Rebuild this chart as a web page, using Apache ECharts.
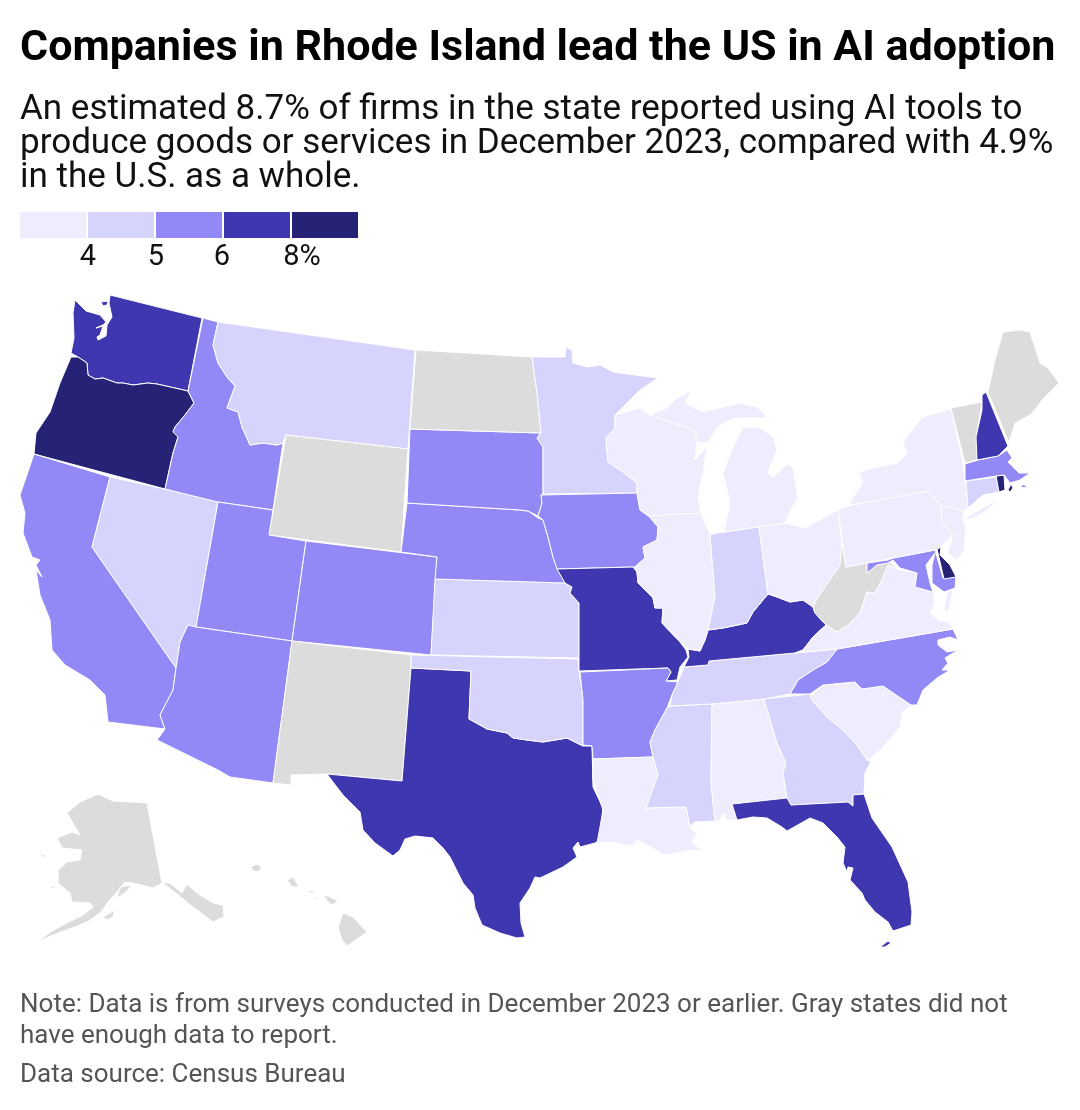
<!DOCTYPE html>
<html><head><meta charset="utf-8">
<style>html,body{margin:0;padding:0;background:#fff}#c{width:1080px;height:1110px}</style>
<script src="https://cdn.jsdelivr.net/npm/echarts@6/dist/echarts.min.js"></script></head>
<body><div id="c"></div>
<script>
// ---- data (null = gray, not enough data) ----
const stateCodes  = ['WA','OR','CA','NV','ID','MT','WY','UT','CO','AZ','NM','TX','OK','KS','NE','SD','ND','MN','IA','MO','AR','LA','MS','AL','GA','FL','SC','NC','TN','KY','IL','IN','OH','WV','VA','MD','DE','PA','NY','NJ','CT','RI','MA','VT','NH','ME','MI','WI','AK','HI'];
const stateValues = [6.6,8.2,5.4,4.6,5.5,4.4,null,5.6,5.7,5.5,null,6.3,4.5,4.4,5.3,5.2,null,4.5,5.4,6.2,5.5,3.8,4.6,3.9,4.7,6.4,3.7,5.6,4.5,6.1,3.9,4.6,3.9,null,3.9,5.5,8.1,3.8,3.9,3.9,4.7,8.7,5.6,null,6.5,null,3.8,3.9,null,null];
const binEdges   = [0,4,5,6,8,10];
const binColors  = ['#eeecfd','#d6d3fc','#9389f6','#3f37b0','#262377'];
const noDataColor = '#dcdcdc';
const tickLabels = ['4','5','6','8%'];
const titleText = 'Companies in Rhode Island lead the US in AI adoption';
const subtitleLines = ['An estimated 8.7% of firms in the state reported using AI tools to','produce goods or services in December 2023, compared with 4.9%','in the U.S. as a whole.'];
const noteLines = ['Note: Data is from surveys conducted in December 2023 or earlier. Gray states did not','have enough data to report.'];
const sourceLine = 'Data source: Census Bureau';

// ---- base map geometry: simplified state outlines in the map's own planar space ----
const outlines = {
WA:['110,295 202,318 188,391 157,384 148,383 133,385 123,383 117,383 103,378 95,379 88,375 87,363 78,357 71,353 74,338 73,313 75,300 86,311 100,315 106,322 103,325 96,328 103,326 100,335 97,337 98,340 106,336 107,325 112,317 109,303','101,302 108,301 107,305 103,306'],
OR:['71,357 78,357 87,363 88,375 95,379 103,378 117,383 123,383 133,385 148,383 157,384 188,391 194,403 185,415 175,427 173,432 178,437 173,453 165,489 34,454 36,433 50,412 60,383'],
CA:['34,454 110,477 92,547 176,668 173,690 160,715 165,729 108,722 105,695 90,680 65,665 52,650 50,620 40,595 36,570 42,577 36,565 40,560 32,557 23,533 25,513 20,495'],
NV:['110,477 218,501 196,628 188,625 180,642 176,668 92,547'],
ID:['203,318 218,322 213,345 218,363 227,377 235,386 227,408 238,412 242,427 250,445 263,443 277,445 283,443 273,510 218,502 165,489 173,453 178,437 173,432 175,427 185,415 194,403 188,391'],
MT:['218,322 415,350 408,449 286,435 283,443 277,445 263,443 250,445 242,427 238,412 227,408 235,386 227,377 218,363 213,345'],
WY:['286,435 408,449 401,552 269,535'],
UT:['218,502 273,510 269,535 306,541 292,641 196,627'],
CO:['306,541 437,557 431,655 292,641'],
AZ:['196,627 292,641 273,783 230,777 218,770 157,740 165,729 160,715 173,690 176,668 180,642 188,625'],
NM:['292,641 411,655 411,668 402,781 327,774 291,775 291,785 273,783'],
TX:['411,668 471,671 469,719 480,725 487,729 507,733 513,738 527,740 543,742 567,738 583,746 592,746 593,787 603,808 600,840 595,843 580,847 578,842 573,848 577,857 563,867 540,878 535,877 530,888 520,903 521,923 525,937 517,938 500,933 482,925 475,908 473,895 463,883 450,857 443,848 433,838 415,836 405,839 400,850 393,856 375,843 363,830 360,812 343,795 333,782 327,774 402,781'],
OK:['411,655 578,659 579,670 583,697 583,746 567,738 543,742 527,740 513,738 507,733 487,729 480,725 469,719 471,671 411,668'],
KS:['435,579 565,583 572,587 570,593 579,603 579,658 431,655'],
NE:['407,503 520,510 528,511 538,518 543,520 548,537 553,557 557,568 565,583 435,579 437,557 401,552'],
SD:['410,429 541,433 537,438 543,447 543,494 541,495 542,503 538,516 528,511 520,510 407,503'],
ND:['416,350 532,357 537,393 541,433 410,429'],
MN:['532,357 565,357 566,347 572,350 573,363 588,367 600,365 613,372 635,375 658,378 640,390 620,410 615,415 615,428 606,438 608,462 623,472 637,483 637,493 543,494 543,447 537,438 541,433 537,393'],
IA:['541,495 637,493 640,510 648,515 658,527 657,540 643,547 645,558 635,567 557,569 553,557 548,537 543,520 538,516 542,503'],
MO:['557,569 633,567 637,572 638,583 653,598 655,608 663,608 662,623 680,642 686,650 688,657 680,667 677,680 666,681 671,672 668,668 579,671 579,603 570,593 572,587 565,583'],
AR:['580,672 668,668 671,672 666,681 678,682 672,695 667,708 655,730 650,742 653,757 593,759 592,746 583,745 583,700'],
LA:['593,759 653,757 658,775 646,808 686,807 690,828 697,833 692,842 703,852 692,850 677,853 663,855 653,848 637,840 632,846 610,842 597,843 600,827 603,810 593,780'],
MS:['671,706 712,704 711,783 715,821 695,822 690,826 686,807 646,808 658,775 653,757 650,742 655,730 667,708'],
AL:['712,704 764,699 777,743 786,763 783,773 787,798 732,804 737,820 727,820 723,813 720,821 715,821 711,783'],
GA:['764,699 810,694 812,700 827,717 843,730 857,745 867,760 871,761 865,773 864,794 853,795 853,806 848,802 791,805 787,798 783,773 786,763 777,743'],
FL:['732,804 787,798 791,805 848,802 853,806 853,795 864,794 872,818 892,847 908,882 912,912 911,925 893,931 888,922 875,912 865,900 862,893 850,880 853,868 848,867 847,872 843,863 845,847 837,837 823,823 810,818 803,822 787,831 782,827 767,818 753,817 737,820','880,947 888,941 891,943 885,947'],
SC:['810,697 823,685 855,682 862,689 883,686 911,705 902,713 900,727 885,745 870,759 867,760 857,745 843,730 827,717 812,700'],
NC:['837,649 953,629 958,640 950,637 938,640 938,645 947,652 958,650 945,658 948,663 942,670 950,670 937,678 923,690 917,705 911,705 883,686 862,689 855,682 823,685 810,694 790,694 798,680 813,670 827,662'],
TN:['670,706 672,695 678,682 684,667 708,665 709,661 795,653 837,649 827,662 813,670 798,680 790,694 764,699 712,704'],
KY:['684,667 689,657 688,649 700,651 705,640 708,630 723,628 738,625 747,623 753,612 768,594 777,597 790,602 803,600 813,607 815,613 826,625 813,637 803,650 795,653 709,661 708,665'],
IL:['648,515 701,513 710,535 715,597 708,630 705,640 700,651 688,649 680,642 662,623 663,608 655,608 653,598 638,583 637,572 635,567 645,558 643,547 657,540 658,527'],
IN:['710,535 717,533 759,527 768,594 753,612 747,623 723,628 708,630 715,597'],
OH:['759,527 785,523 805,528 838,510 842,545 843,565 830,580 818,597 813,607 803,600 790,602 777,597 768,594'],
WV:['842,543 846,567 867,563 867,573 877,565 888,561 900,570 888,565 883,578 875,593 867,592 860,613 848,625 837,632 826,625 815,613 813,607 818,597 830,580 840,565'],
VA:['826,625 837,632 848,625 860,613 867,592 875,593 883,578 888,565 900,570 917,573 915,587 933,592 935,603 930,613 938,620 949,622 953,629 837,649 795,653 803,650 813,637','947,592 953,590 948,612 944,610'],
MD:['867,563 888,560 893,558 935,550 943,578 956,577 955,588 944,592 932,583 932,565 935,553 926,565 930,583 933,592 915,587 917,573 900,568 893,560 888,563 877,565 867,573'],
DE:['937,549 941,547 940,555 950,565 956,577 944,579'],
PA:['838,510 851,505 928,491 941,505 942,520 953,535 941,547 935,550 893,558 867,563 846,567'],
NY:['851,505 850,502 863,483 859,473 872,468 898,463 907,453 903,442 922,417 951,409 963,463 966,485 969,508 964,511 941,505 928,491','967,517 995,501 993,505 977,517 965,520'],
NJ:['941,505 964,511 963,520 966,528 964,550 957,560 948,553 953,535 942,520'],
CT:['966,481 996,477 999,492 983,495 968,508'],
RI:['996,476 1004,475 1005,490 999,492','1008,490 1011,484 1013,488 1010,492'],
MA:['965,464 978,460 998,456 1007,450 1012,458 1008,462 1019,473 1030,473 1020,480 1010,483 1004,475 996,476 965,481','1020,487 1024,484 1027,488'],
VT:['951,408 982,402 977,433 977,460 965,463'],
NH:['982,395 986,392 1008,446 998,456 977,460 976,437 982,410'],
ME:['988,392 995,360 1003,332 1020,330 1030,332 1040,363 1048,368 1059,383 1042,400 1037,407 1030,415 1015,423 1009,443'],
MI:['724,532 785,523 792,507 798,498 793,468 787,464 773,477 768,472 777,450 773,437 760,428 743,427 733,447 723,473 730,503','650,415 688,428 695,432 697,442 707,443 717,428 723,423 737,418 768,418 757,407 740,403 723,407 703,412 685,403 692,390 677,398 667,408'],
WI:['615,415 640,408 650,415 688,428 695,432 697,442 695,460 707,447 703,473 698,497 701,513 648,516 640,510 637,493 637,483 623,472 608,462 606,438 615,428'],
AK:['147,803 162,883 153,888 133,883 125,882 117,892 108,902 100,913 87,922 75,927 53,935 30,945 28,946 40,940 52,931 65,924 83,915 93,907 90,903 72,902 70,893 58,883 58,870 67,862 80,860 82,850 62,848 57,838 72,832 80,835 67,813 80,802 98,794 113,801','162,883 170,883 182,893 187,884 197,893 213,903 223,905 224,917 213,922 200,912 190,905 182,898 168,887','103,917 115,910 113,917 107,920','117,898 120,887 132,885 125,893','38,852 48,857 43,857','49,886 56,887 53,889'],
HI:['251,867 257,864 262,867 258,872 253,871','287,880 293,877 299,887 292,887','308,890 318,892 310,893','315,897 319,898 316,900','323,895 328,896 338,901 332,905 327,901','343,913 353,917 367,932 347,946 342,940 338,927']
};

const toRing = s => { const r = s.split(' ').map(p => p.split(',').map(Number)); r.push(r[0]); return r; };
const features = stateCodes.map(code => ({
  type:'Feature', properties:{name:code},
  geometry:{type:'MultiPolygon', coordinates: outlines[code].map(s => [toRing(s)])}
}));
echarts.registerMap('usa', {type:'FeatureCollection', features});

let xs=[], ys=[];
features.forEach(f=>f.geometry.coordinates.forEach(p=>p[0].forEach(c=>{xs.push(c[0]);ys.push(c[1]);})));
const x0=Math.min(...xs),x1=Math.max(...xs),y0=Math.min(...ys),y1=Math.max(...ys);

const chart = echarts.init(document.getElementById('c'), null, {renderer:'canvas'});
const FONT='Roboto';
// legend swatches
const swX=20, swW=66, swGap=2, swY=212, swH=26;
const legendG=[];
binColors.forEach((col,i)=>{
  legendG.push({type:'rect',shape:{x:swX+i*(swW+swGap),y:swY,width:swW,height:swH},style:{fill:col}});
});
const labelX=[88,156,222,302];
tickLabels.forEach((t,i)=>{
  legendG.push({type:'text',x:labelX[i],y:258,style:{text:t,fill:'#111',font:'29px '+FONT,textAlign:'center',textVerticalAlign:'middle'}});
});
const txt=(t,x,y,font,fill)=>({type:'text',x,y,style:{text:t,fill,font:font+' '+FONT,textAlign:'left',textVerticalAlign:'middle'}});
const textG=[txt(titleText,20,49,'bold 43px','#000')];
subtitleLines.forEach((t,i)=>textG.push(txt(t,20,110+i*34,'35px','#111')));
noteLines.forEach((t,i)=>textG.push(txt(t,20,1005+i*31,'26px','#555')));
textG.push(txt(sourceLine,20,1075,'26px','#555'));

chart.setOption({
  animation:false,
  backgroundColor:'#fff',
  graphic:{elements:[...textG,...legendG]},
  visualMap:{show:false,type:'piecewise',seriesIndex:0,
    pieces:binColors.map((c,i)=>({gte:binEdges[i],lt:binEdges[i+1],color:c})),
    outOfRange:{color:noDataColor}},
  series:[{
    type:'map',map:'usa',silent:true,
    projection:{project:p=>p,unproject:p=>p},
    layoutCenter:[(x0+x1)/2,(y0+y1)/2],
    layoutSize:Math.max(x1-x0,y1-y0),
    label:{show:false},
    itemStyle:{areaColor:noDataColor,borderColor:'#fff',borderWidth:1},
    data:stateCodes.map((c,i)=>({name:c,value:stateValues[i]}))
  }]
});
</script></body></html>
